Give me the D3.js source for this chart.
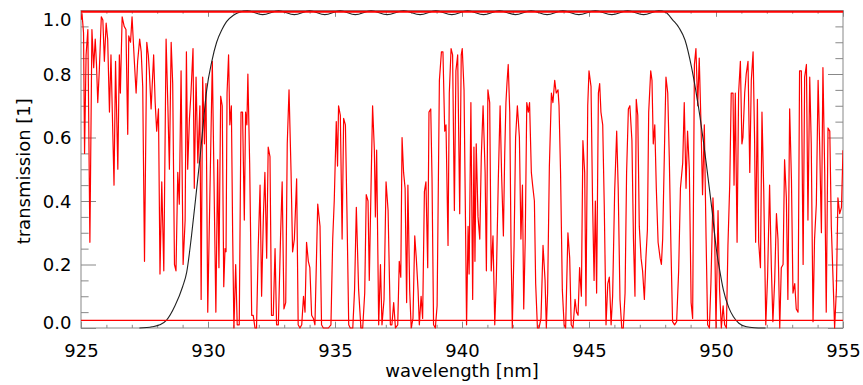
<!DOCTYPE html>
<html>
<head>
<meta charset="utf-8">
<script src="https://cdn.jsdelivr.net/npm/d3@7"></script>
<style>
  body { margin: 0; background: #fff; }
  svg { display: block; }
  text { font-family: "DejaVu Sans", sans-serif; }
</style>
</head>
<body>
<div id="viz"></div>
<script>
// tick values
const xMajor = [925, 930, 935, 940, 945, 950, 955];
const yMajor = [0.0, 0.2, 0.4, 0.6, 0.8, 1.0];

// red reference levels (zero / continuum)
const refLevels = [0.024, 0.996];

// atmospheric transmission, [wavelength nm, transmission]
const spectrum = [
  [925.00,0.97],[925.04,0.99],[925.10,0.93],[925.14,0.55],[925.20,0.86],[925.27,0.94],[925.35,0.27],[925.43,0.94],
  [925.50,0.82],[925.56,0.91],[925.61,0.83],[925.66,0.71],[925.72,0.81],[925.80,0.98],[925.86,0.97],[925.92,0.84],
  [925.99,0.96],[926.05,0.91],[926.12,0.68],[926.18,0.86],[926.30,0.45],[926.36,0.84],[926.45,0.50],[926.51,0.86],
  [926.55,0.74],[926.62,0.98],[926.70,0.95],[926.77,0.94],[926.84,0.61],[926.88,0.92],[926.95,0.90],[927.01,0.98],
  [927.10,0.84],[927.17,0.74],[927.23,0.84],[927.31,0.91],[927.37,0.87],[927.43,0.76],[927.50,0.21],[927.59,0.90],
  [927.65,0.86],[927.69,0.81],[927.76,0.69],[927.86,0.86],[927.92,0.71],[927.98,0.62],[928.05,0.69],[928.11,0.17],
  [928.18,0.46],[928.26,0.18],[928.35,0.91],[928.42,0.70],[928.48,0.50],[928.55,0.90],[928.61,0.77],[928.68,0.20],
  [928.74,0.18],[928.81,0.49],[928.87,0.39],[928.94,0.81],[929.02,0.20],[929.10,0.34],[929.15,0.87],[929.20,0.50],
  [929.27,0.66],[929.33,0.74],[929.41,0.88],[929.46,0.44],[929.53,0.79],[929.60,0.52],[929.68,0.70],[929.73,0.09],
  [929.79,0.79],[929.86,0.58],[929.92,0.77],[929.99,0.05],
  [930.17,0.84],[930.31,0.05],[930.38,0.53],[930.43,0.19],[930.50,0.73],[930.56,0.70],[930.62,0.13],[930.67,0.25],
  [930.71,0.24],[930.75,0.74],[930.81,0.86],[930.86,0.64],[930.92,0.70],[930.97,0.30],[931.02,0.00],[931.09,0.20],
  [931.15,0.01],[931.23,0.01],[931.30,0.68],[931.36,0.68],[931.43,0.34],[931.48,0.68],[931.53,0.64],[931.57,0.80],
  [931.64,0.52],[931.72,0.04],[931.78,0.04],[931.85,0.00],[931.91,0.00],[931.98,0.26],[932.05,0.45],[932.11,0.10],
  [932.18,0.35],[932.24,0.49],[932.31,0.22],[932.37,0.57],[932.44,0.54],[932.50,0.04],[932.57,0.04],[932.64,0.25],
  [932.70,0.01],[932.77,0.01],[932.86,0.30],[932.92,0.46],[932.99,0.06],[933.06,0.08],[933.12,0.58],[933.19,0.75],
  [933.27,0.49],[933.33,0.24],[933.40,0.28],[933.49,0.47],[933.55,0.01],[933.62,0.00],[933.69,0.01],[933.76,0.10],
  [933.82,0.05],[933.88,0.27],[933.95,0.21],[934.01,0.19],[934.08,0.04],[934.15,0.03],[934.21,0.01],[934.32,0.39],
  [934.41,0.32],[934.47,0.01],[934.54,0.00],[934.60,0.00],[934.67,0.00],[934.74,0.00],[934.84,0.01],[934.91,0.28],
  [934.97,0.40],[935.05,0.65],
  [935.10,0.51],[935.14,0.70],[935.21,0.67],[935.28,0.28],[935.34,0.66],[935.41,0.64],[935.47,0.37],[935.54,0.01],
  [935.60,0.00],[935.70,0.00],[935.77,0.12],[935.84,0.38],[935.93,0.12],[936.02,0.00],[936.09,0.00],[936.17,0.11],
  [936.23,0.42],[936.30,0.40],[936.35,0.15],[936.42,0.45],[936.48,0.70],[936.55,0.56],[936.59,0.35],[936.64,0.56],
  [936.72,0.01],[936.79,0.20],[936.85,0.01],[936.93,0.09],[937.01,0.46],[937.09,0.37],[937.18,0.01],[937.24,0.01],
  [937.31,0.08],[937.38,0.00],[937.47,0.01],[937.53,0.21],[937.59,0.16],[937.64,0.60],[937.70,0.49],[937.76,0.44],
  [937.82,0.08],[937.87,0.45],[937.94,0.12],[938.00,0.00],[938.07,0.03],[938.14,0.29],[938.20,0.22],[938.27,0.12],
  [938.32,0.01],[938.39,0.10],[938.45,0.03],[938.52,0.43],[938.58,0.46],[938.65,0.19],[938.70,0.68],[938.77,0.69],
  [938.82,0.47],[938.88,0.01],[938.95,0.00],[939.02,0.07],[939.11,0.78],[939.19,0.87],[939.25,0.87],[939.32,0.62],
  [939.37,0.64],[939.45,0.26],[939.50,0.74],[939.57,0.88],[939.63,0.86],[939.70,0.37],[939.76,0.81],[939.83,0.86],
  [939.91,0.36],[939.97,0.86],
  [940.01,0.88],[940.08,0.75],[940.14,0.32],[940.18,0.01],[940.24,0.32],[940.28,0.17],[940.35,0.71],[940.42,0.09],
  [940.47,0.57],[940.51,0.21],[940.56,0.58],[940.63,0.35],[940.70,0.28],[940.76,0.54],[940.83,0.70],[940.91,0.49],
  [940.96,0.18],[941.02,0.75],[941.09,0.71],[941.15,0.18],[941.22,0.29],[941.29,0.01],[941.35,0.15],[941.43,0.47],
  [941.50,0.70],[941.56,0.48],[941.63,0.29],[941.68,0.54],[941.73,0.71],[941.77,0.77],[941.82,0.83],[941.88,0.68],
  [941.93,0.26],[941.98,0.00],[942.05,0.26],[942.11,0.60],[942.18,0.70],[942.26,0.60],[942.32,0.28],[942.38,0.45],
  [942.43,0.06],[942.49,0.28],[942.55,0.71],[942.61,0.68],[942.66,0.71],[942.73,0.49],[942.78,0.45],[942.85,0.40],
  [942.90,0.14],[942.97,0.00],[943.03,0.00],[943.11,0.03],[943.19,0.26],[943.27,0.15],[943.32,0.00],[943.37,0.11],
  [943.44,0.51],[943.52,0.74],[943.58,0.71],[943.65,0.78],[943.71,0.74],[943.78,0.75],[943.82,0.70],[943.88,0.49],
  [943.95,0.12],[944.02,0.01],[944.08,0.00],[944.17,0.30],[944.24,0.22],[944.30,0.01],[944.37,0.00],[944.45,0.09],
  [944.51,0.05],[944.57,0.04],[944.63,0.19],[944.70,0.10],[944.76,0.59],[944.83,0.49],[944.88,0.07],[944.95,0.70],
  [945.00,0.81],
  [945.08,0.76],[945.14,0.40],[945.20,0.15],[945.25,0.40],[945.30,0.11],[945.37,0.74],[945.42,0.77],[945.47,0.68],
  [945.54,0.64],[945.60,0.39],[945.67,0.01],[945.74,0.14],[945.80,0.16],[945.87,0.01],[945.93,0.10],[946.01,0.43],
  [946.09,0.62],[946.15,0.44],[946.22,0.09],[946.29,0.00],[946.35,0.00],[946.42,0.11],[946.48,0.49],[946.55,0.69],
  [946.61,0.70],[946.69,0.59],[946.75,0.28],[946.81,0.10],[946.86,0.72],[946.92,0.67],[946.98,0.32],[947.05,0.22],
  [947.11,0.18],[947.18,0.09],[947.24,0.22],[947.30,0.31],[947.35,0.68],[947.43,0.81],[947.48,0.78],[947.53,0.58],
  [947.59,0.64],[947.65,0.44],[947.72,0.27],[947.80,0.22],[947.85,0.20],[947.90,0.28],[947.98,0.60],[948.03,0.79],
  [948.10,0.74],[948.16,0.54],[948.23,0.24],[948.29,0.02],[948.37,0.01],[948.45,0.02],[948.53,0.18],[948.60,0.44],
  [948.69,0.52],[948.75,0.71],[948.82,0.44],[948.88,0.62],[948.95,0.50],[949.02,0.08],[949.08,0.03],[949.15,0.83],
  [949.21,0.88],[949.28,0.70],[949.34,0.85],[949.41,0.64],[949.47,0.42],[949.54,0.64],[949.61,0.28],[949.67,0.01],
  [949.74,0.00],[949.80,0.14],[949.88,0.41],[949.95,0.28],[950.00,0.00],[950.08,0.37],
  [950.14,0.12],[950.21,0.00],[950.28,0.07],[950.34,0.01],[950.41,0.00],[950.47,0.26],[950.54,0.45],[950.60,0.74],
  [950.67,0.74],[950.71,0.45],[950.76,0.74],[950.83,0.27],[950.89,0.74],[950.96,0.84],[951.02,0.58],[951.06,0.60],
  [951.13,0.74],[951.19,0.80],[951.26,0.84],[951.33,0.49],[951.39,0.78],[951.46,0.87],[951.52,0.59],[951.56,0.27],
  [951.63,0.72],[951.68,0.27],[951.75,0.19],[951.81,0.68],[951.88,0.43],[951.96,0.01],[952.03,0.16],[952.11,0.45],
  [952.18,0.19],[952.24,0.02],[952.31,0.15],[952.38,0.36],[952.44,0.28],[952.51,0.00],[952.57,0.19],[952.64,0.20],
  [952.70,0.53],[952.77,0.41],[952.83,0.09],[952.90,0.69],[952.97,0.47],[953.03,0.11],[953.10,0.14],[953.16,0.06],
  [953.23,0.05],[953.29,0.81],[953.36,0.81],[953.43,0.20],[953.49,0.79],[953.56,0.83],[953.62,0.34],[953.69,0.79],
  [953.75,0.58],[953.82,0.02],[953.88,0.28],[953.95,0.39],[954.02,0.78],[954.08,0.58],[954.15,0.30],[954.21,0.82],
  [954.28,0.49],[954.34,0.05],[954.41,0.63],[954.48,0.62],[954.54,0.32],[954.61,0.15],[954.67,0.00],[954.74,0.12],
  [954.80,0.41],[954.87,0.36],[954.94,0.38],[955.00,0.56]
];

// interference filter profile, [wavelength nm, transmission]
const filterCurve = [
  [927.30,0.000],[927.80,0.004],[928.10,0.010],[928.37,0.025],[928.70,0.070],[929.00,0.130],[929.16,0.175],
  [929.35,0.290],[929.55,0.435],[929.69,0.540],[929.82,0.650],[929.95,0.750],[930.15,0.840],[930.34,0.900],
  [930.55,0.940],[930.73,0.965],[931.00,0.985],[931.26,0.995],[931.55,0.999],
  [932.15,0.987],[932.78,0.999],[933.40,0.987],[934.00,0.999],[934.60,0.987],[935.20,0.999],[935.80,0.987],
  [936.42,0.999],[937.05,0.987],[937.70,0.999],[938.35,0.987],[938.97,0.999],[939.60,0.987],[940.22,0.999],
  [940.85,0.987],[941.47,0.999],[942.10,0.987],[942.72,0.999],[943.35,0.987],[943.97,0.999],[944.60,0.987],
  [945.25,0.999],[945.90,0.987],[946.52,0.999],[947.15,0.987],[947.75,0.999],
  [948.00,0.995],[948.30,0.970],[948.55,0.945],[948.78,0.907],[949.04,0.820],[949.20,0.750],[949.37,0.665],
  [949.50,0.590],[949.63,0.510],[949.83,0.380],[950.02,0.245],[950.15,0.180],[950.29,0.120],[950.50,0.065],
  [950.68,0.036],[950.90,0.015],[951.20,0.004],[951.50,0.001],[951.95,0.000]
];

const W = 863, H = 385;
const margin = { top: 10.5, right: 20, bottom: 57, left: 81 };
const width = W - margin.left - margin.right;
const height = H - margin.top - margin.bottom;
const axisColor = "#888";

const svg = d3.select("#viz")
              .append("svg")
              .attr("width", W)
              .attr("height", H);

const x = d3.scaleLinear().domain([925, 955]).range([0, width]);
const y = d3.scaleLinear().domain([0, 1]).range([height, 0]);

const g = svg.append("g").attr("transform", `translate(${margin.left},${margin.top})`);

svg.append("defs").append("clipPath").attr("id", "plotclip")
   .append("rect").attr("width", width).attr("height", height + 2).attr("y", -1);

// axes (ticks point inwards, IDL style)
const xMinor = d3.range(925, 956, 1).filter(d => d % 5 !== 0);
const yMinor = d3.range(0, 1.0001, 0.05).filter(d => Math.abs(d * 5 - Math.round(d * 5)) > 1e-6);

function styleAxis(sel) {
  sel.select(".domain").remove();
  sel.selectAll("line").attr("stroke", axisColor);
}

g.append("g").attr("transform", `translate(0,${height})`)
 .call(d3.axisBottom(x).tickValues(xMinor).tickSize(-3.2).tickFormat(""))
 .call(styleAxis);
g.append("g").call(d3.axisTop(x).tickValues(xMinor).tickSize(-3.2).tickFormat(""))
 .call(styleAxis);
g.append("g").call(d3.axisTop(x).tickValues(xMajor).tickSize(-6.3).tickFormat(""))
 .call(styleAxis);
const gx = g.append("g").attr("transform", `translate(0,${height})`)
 .call(d3.axisBottom(x).tickValues(xMajor).tickSize(-6.3).tickFormat(d3.format("d")))
 .call(styleAxis);
gx.selectAll("text").attr("y", 28.5).attr("dy", null)
  .attr("fill", "#000").style("font-size", "18px");

g.append("g").call(d3.axisLeft(y).tickValues(yMinor).tickSize(-7.6).tickFormat(""))
 .call(styleAxis);
g.append("g").attr("transform", `translate(${width},0)`)
 .call(d3.axisRight(y).tickValues(yMinor).tickSize(-7.6).tickFormat(""))
 .call(styleAxis);
g.append("g").attr("transform", `translate(${width},0)`)
 .call(d3.axisRight(y).tickValues(yMajor).tickSize(-15).tickFormat(""))
 .call(styleAxis);
const gy = g.append("g")
 .call(d3.axisLeft(y).tickValues(yMajor).tickSize(-15).tickPadding(9.5).tickFormat(d3.format(".1f")))
 .call(styleAxis);
gy.selectAll("text").attr("fill", "#000").style("font-size", "18px")
  .attr("dy", d => d === 1 ? "0.82em" : d === 0 ? "0.05em" : "0.36em");

// frame
g.append("rect").attr("width", width).attr("height", height)
 .attr("fill", "none").attr("stroke", axisColor).attr("stroke-width", 1);

const plot = g.append("g").attr("clip-path", "url(#plotclip)");

plot.append("path")
    .datum(spectrum)
    .attr("fill", "none")
    .attr("stroke", "#ff0000")
    .attr("stroke-width", 1.2)
    .attr("stroke-linejoin", "round")
    .attr("d", d3.line().x(d => x(d[0])).y(d => y(d[1])));

plot.append("path")
    .datum(filterCurve)
    .attr("fill", "none")
    .attr("stroke", "#222")
    .attr("stroke-width", 1.1)
    .attr("d", d3.line().x(d => x(d[0])).y(d => y(d[1])).curve(d3.curveMonotoneX));

plot.selectAll(".ref")
    .data(refLevels)
    .enter()
    .append("line")
    .attr("class", "ref")
    .attr("x1", 0).attr("x2", width)
    .attr("y1", d => y(d)).attr("y2", d => y(d))
    .attr("stroke", "#ff0000")
    .attr("stroke-width", (d, i) => i === 1 ? 2 : 1.2);

// axis titles
svg.append("text")
   .attr("x", margin.left + width / 2)
   .attr("y", 377)
   .attr("text-anchor", "middle")
   .style("font-size", "18px")
   .text("wavelength [nm]");

svg.append("text")
   .attr("transform", `translate(30,${margin.top + height / 2 + 2}) rotate(-90)`)
   .attr("text-anchor", "middle")
   .style("font-size", "18px")
   .text("transmission [1]");
</script>
</body>
</html>
